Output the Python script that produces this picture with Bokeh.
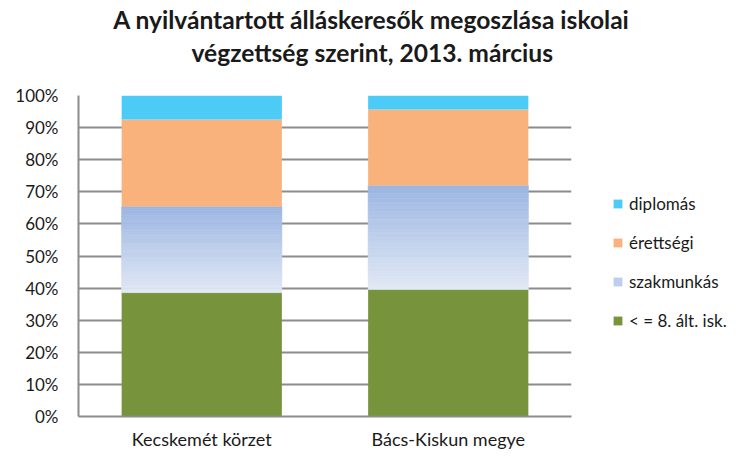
import os, struct
from bokeh.plotting import figure
from bokeh.models import ColumnDataSource, Legend, LegendItem, NumeralTickFormatter, FixedTicker, Range1d, Title
from bokeh.embed import file_html
from bokeh.resources import INLINE

categories = ["Kecskemét körzet", "Bács-Kiskun megye"]
alt_isk = [38.6, 39.6]
szakmunkas = [26.8, 32.4]
erettsegi = [27.1, 23.6]
diplomas = [7.5, 4.4]
series_names = ["< = 8. ált. isk.", "szakmunkás", "érettségi", "diplomás"]
title_lines = ["A nyilvántartott álláskeresők megoszlása iskolai",
               "végzettség szerint, 2013. március"]

FONT = "Lato"
C_GREEN = "#77933C"
C_ORANGE = "#F9B27C"
C_BLUE = "#4BCBF5"
C_TOP = (155, 181, 226)
C_BOT = (226, 233, 246)
TXT = "#1A1A1A"


def _find_font(name):
    for root in ("/usr/share/fonts", "/usr/local/share/fonts", os.path.expanduser("~/.fonts")):
        for d, _, files in os.walk(root):
            for f in files:
                if f.lower() == name.lower():
                    return os.path.join(d, f)
    return None


def _text_em_width(path, text):
    data = open(path, "rb").read()
    num = struct.unpack(">H", data[4:6])[0]
    tables = {}
    for i in range(num):
        tag, _, off, ln = struct.unpack(">4sIII", data[12 + 16 * i: 28 + 16 * i])
        tables[tag.decode("latin-1")] = (off, ln)
    upm = struct.unpack(">H", data[tables["head"][0] + 18: tables["head"][0] + 20])[0]
    nhm = struct.unpack(">H", data[tables["hhea"][0] + 34: tables["hhea"][0] + 36])[0]
    hoff = tables["hmtx"][0]
    adv = [struct.unpack(">H", data[hoff + 4 * i: hoff + 4 * i + 2])[0] for i in range(nhm)]
    coff = tables["cmap"][0]
    nt = struct.unpack(">H", data[coff + 2: coff + 4])[0]
    cmap = {}
    best = None
    for i in range(nt):
        pid, eid, so = struct.unpack(">HHI", data[coff + 4 + 8 * i: coff + 12 + 8 * i])
        fmt = struct.unpack(">H", data[coff + so: coff + so + 2])[0]
        if pid == 3 and fmt in (4, 12):
            if best is None or fmt == 12:
                best = (coff + so, fmt)
    o, fmt = best
    if fmt == 12:
        ng = struct.unpack(">I", data[o + 12: o + 16])[0]
        for g in range(ng):
            s, e, sg = struct.unpack(">III", data[o + 16 + 12 * g: o + 28 + 12 * g])
            for c in range(s, min(e, 0x2FFF) + 1):
                cmap[c] = sg + c - s
    else:
        seg = struct.unpack(">H", data[o + 6: o + 8])[0] // 2
        ends = struct.unpack(">%dH" % seg, data[o + 14: o + 14 + 2 * seg])
        starts = struct.unpack(">%dH" % seg, data[o + 16 + 2 * seg: o + 16 + 4 * seg])
        deltas = struct.unpack(">%dh" % seg, data[o + 16 + 4 * seg: o + 16 + 6 * seg])
        roff_pos = o + 16 + 6 * seg
        roffs = struct.unpack(">%dH" % seg, data[roff_pos: roff_pos + 2 * seg])
        for k in range(seg):
            for c in range(starts[k], ends[k] + 1):
                if c == 0xFFFF:
                    continue
                if roffs[k] == 0:
                    g = (c + deltas[k]) & 0xFFFF
                else:
                    gp = roff_pos + 2 * k + roffs[k] + 2 * (c - starts[k])
                    g = struct.unpack(">H", data[gp: gp + 2])[0]
                    if g:
                        g = (g + deltas[k]) & 0xFFFF
                cmap[c] = g
    tot = 0
    for ch in text:
        g = cmap.get(ord(ch), 0)
        tot += adv[g] if g < nhm else adv[-1]
    return tot / upm


try:
    _bold = _find_font("Lato-Bold.ttf")
    em1 = _text_em_width(_bold, title_lines[0])
    em2 = _text_em_width(_bold, title_lines[1])
except Exception:
    em1, em2 = 0.52 * len(title_lines[0]), 0.52 * len(title_lines[1])

TSIZE = round((519 + 365) / (em1 + em2), 1)
TW1, TW2 = em1 * TSIZE, em2 * TSIZE
TCENTER = 373
FRAME_LEFT = 78

p = figure(frame_width=493, frame_height=321, x_range=categories, y_range=Range1d(0, 1),
           output_backend="svg", toolbar_location=None,
           min_border_left=FRAME_LEFT, min_border_right=170, min_border_top=95, min_border_bottom=43)
p.outline_line_color = None
p.xgrid.grid_line_color = None
p.ygrid.grid_line_color = "#8C8C8C"
p.ygrid.grid_line_width = 2
p.yaxis.ticker = FixedTicker(ticks=[i / 10 for i in range(11)])
p.yaxis.formatter = NumeralTickFormatter(format="0%")
for ax in (p.xaxis, p.yaxis):
    ax.axis_line_color = "#8C8C8C"
    ax.axis_line_width = 2
    ax.major_tick_line_color = None
    ax.minor_tick_line_color = None
    ax.major_tick_out = 0
    ax.major_tick_in = 0
    ax.major_label_text_font = FONT
    ax.major_label_text_color = TXT
p.yaxis.major_label_text_font_size = "17px"
p.xaxis.major_label_text_font_size = "18px"
p.yaxis.major_label_standoff = 20
p.xaxis.major_label_standoff = 11

# spacer between the frame and the title lines (added first = closest to frame)
spacer = Title(text=" ", text_font_size="1px", standoff=25)
p.add_layout(spacer, "above")
t2 = Title(text=title_lines[1], align="left", offset=TCENTER - TW2 / 2 - FRAME_LEFT, standoff=2,
           text_line_height=0.86,
           text_font=FONT, text_font_size="%gpx" % TSIZE, text_font_style="bold", text_color=TXT)
t1 = Title(text=title_lines[0], align="left", offset=TCENTER - TW1 / 2 - FRAME_LEFT, standoff=2,
           text_line_height=0.86,
           text_font=FONT, text_font_size="%gpx" % TSIZE, text_font_style="bold", text_color=TXT)
p.add_layout(t2, "above")
p.add_layout(t1, "above")

W = 0.65
b0 = [0.0] * 2
t0 = [alt_isk[i] / 100 for i in range(2)]
r_green = p.vbar(x=categories, bottom=b0, top=t0, width=W, fill_color=C_GREEN, line_color=None)

# gradient for szakmunkás
N = 40
xs, bs, ts, cols = [], [], [], []
for i, c in enumerate(categories):
    lo = t0[i]
    hi = lo + szakmunkas[i] / 100
    for k in range(N):
        fr = (k + 0.5) / N
        rgb = tuple(int(round(C_BOT[j] + (C_TOP[j] - C_BOT[j]) * fr)) for j in range(3))
        xs.append(c)
        bs.append(lo + (hi - lo) * k / N)
        ts.append(lo + (hi - lo) * (k + 1) / N)
        cols.append("#%02x%02x%02x" % rgb)
src = ColumnDataSource(dict(x=xs, bottom=bs, top=ts, color=cols))
p.vbar(x="x", bottom="bottom", top="top", width=W, fill_color="color", line_color="color",
       line_width=0.6, source=src)
s1 = [t0[i] + szakmunkas[i] / 100 for i in range(2)]
s2 = [s1[i] + erettsegi[i] / 100 for i in range(2)]
s3 = [s2[i] + diplomas[i] / 100 for i in range(2)]
r_orange = p.vbar(x=categories, bottom=s1, top=s2, width=W, fill_color=C_ORANGE, line_color=None)
r_blue = p.vbar(x=categories, bottom=s2, top=s3, width=W, fill_color=C_BLUE, line_color=None)

r_grad = p.vbar(x=[categories[0]], bottom=[0], top=[0], width=W, fill_color="#BDCDEC", line_color=None)

legend = Legend(items=[
    LegendItem(label=series_names[3], renderers=[r_blue]),
    LegendItem(label=series_names[2], renderers=[r_orange]),
    LegendItem(label=series_names[1], renderers=[r_grad]),
    LegendItem(label=series_names[0], renderers=[r_green]),
], location=(41, 85))
legend.border_line_color = None
legend.background_fill_alpha = 0
legend.label_text_font = FONT
legend.label_text_font_size = "17px"
legend.label_text_color = TXT
legend.glyph_width = 11
legend.glyph_height = 11
legend.spacing = 18
legend.label_standoff = 6
legend.padding = 0
legend.margin = 0
p.add_layout(legend, "right")

open("out.html", "w").write(file_html(p, INLINE))
